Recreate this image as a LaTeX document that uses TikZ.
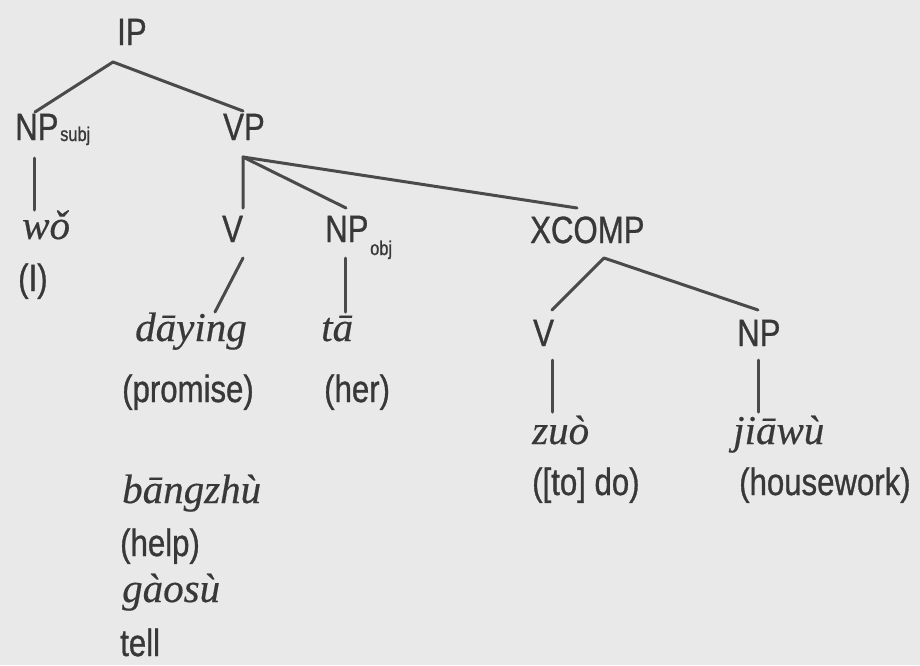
\documentclass[tikz,border=0pt]{standalone}
\usepackage{fontspec}
\setmainfont[FakeStretch=0.82,FakeBold=0.8]{Liberation Sans}
\newfontfamily\pinyinfont[FakeBold=0.4]{Liberation Serif}
\definecolor{paper}{HTML}{E9E9E9}
\definecolor{ink}{HTML}{383838}
\definecolor{branchcol}{HTML}{4A4A4A}
\tikzset{
  lab/.style={anchor=base west, inner sep=0pt, text=ink, font=\fontsize{38}{40}\selectfont},
  subl/.style={anchor=base west, inner sep=0pt, text=ink, font=\fontsize{20}{22}\selectfont},
  pin/.style={anchor=base west, inner sep=0pt, text=ink, font=\pinyinfont\itshape\fontsize{41}{43}\selectfont},
  branch/.style={draw=branchcol, line width=3pt, line cap=round, line join=round}
}
\begin{document}
\begin{tikzpicture}[x=1pt,y=-1pt]
\fill[paper] (0,0) rectangle (920,665);
\useasboundingbox (0,0) rectangle (920,665);
% labels
\node[lab] (ip) at (117,45) {IP};
\node[lab] (npsubj) at (15,140) {NP};
\node[subl] (subj) at (60,141) {subj};
\node[lab] (vp) at (223,140) {VP};
\node[pin] (wo) at (22,239) {wǒ};
\node[lab] (i) at (18,291) {(I)};
\node[lab] (v) at (222,242) {V};
\node[lab] (npobj) at (325,242) {NP};
\node[subl] (obj) at (370,255) {obj};
\node[lab] (xcomp) at (530,243) {XCOMP};
\node[pin] (daying) at (135,341) {dāying};
\node[pin] (ta) at (321,341) {tā};
\node[lab] (promise) at (122,402) {(promise)};
\node[lab] (her) at (324,402) {(her)};
\node[lab] (v2) at (533,346) {V};
\node[lab] (np2) at (737,346) {NP};
\node[pin] (zuo) at (532,444) {zuò};
\node[pin] (jiawu) at (733,444) {jiāwù};
\node[lab] (todo) at (532,495) {([to] do)};
\node[lab] (housework) at (739,495) {(housework)};
\node[pin] (bangzhu) at (122,503) {bāngzhù};
\node[lab] (help) at (120,556) {(help)};
\node[pin] (gaosu) at (122,602) {gàosù};
\node[lab] (tell) at (120,656) {tell};
% branch points
\coordinate (ipA) at (113,62);
\coordinate (npsubjT) at (35,112);
\coordinate (vpT) at (243,111);
\coordinate (npsubjB) at (34,158);
\coordinate (woT) at (34,210);
\coordinate (vpA) at (243,157);
\coordinate (vT) at (243,208);
\coordinate (npobjT) at (346,208);
\coordinate (xcompT) at (577,208);
\coordinate (vB) at (243,258);
\coordinate (dayingT) at (215,312);
\coordinate (npobjB) at (345,258);
\coordinate (taT) at (345,312);
\coordinate (xcompA) at (604,258);
\coordinate (v2T) at (552,310);
\coordinate (np2T) at (758,310);
\coordinate (v2B) at (552,360);
\coordinate (zuoT) at (552,412);
\coordinate (np2B) at (758,360);
\coordinate (jiawuT) at (758,412);
% branches
\draw[branch] (npsubjT) -- (ipA) -- (vpT);
\draw[branch] (npsubjB) -- (woT);
\draw[branch] (vT) -- (vpA) -- (npobjT);
\draw[branch] (vpA) -- (xcompT);
\draw[branch] (vB) -- (dayingT);
\draw[branch] (npobjB) -- (taT);
\draw[branch] (v2T) -- (xcompA) -- (np2T);
\draw[branch] (v2B) -- (zuoT);
\draw[branch] (np2B) -- (jiawuT);
\end{tikzpicture}
\end{document}
